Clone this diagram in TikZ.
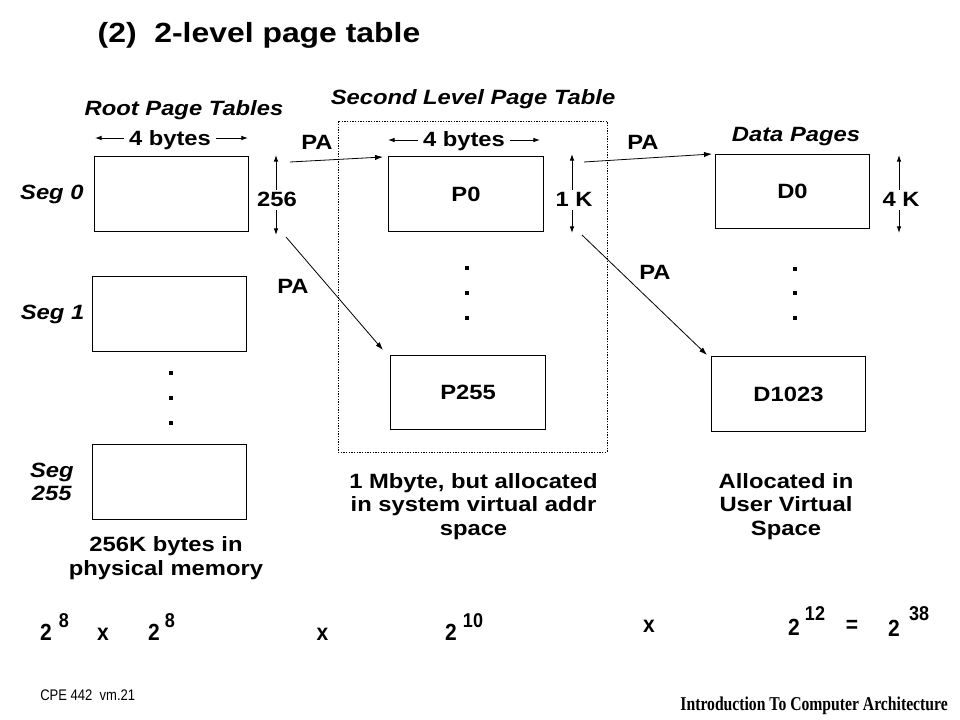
\documentclass[tikz,border=0pt]{standalone}
\usepackage{fontspec}
\setmainfont{Liberation Sans}[FakeStretch=1.15]
\newfontfamily\eqsans{Liberation Sans}[FakeStretch=0.9]
\newfontfamily\narrowsans{Liberation Sans}[FakeStretch=0.85]
\newfontfamily\footserif{Liberation Serif}[FakeStretch=0.8]
\usetikzlibrary{positioning, arrows.meta}

\tikzset{
  page/.style={draw, line width=0.8pt, minimum width=116pt, minimum height=56pt, inner sep=0pt,
    font=\fontsize{15.5}{17.6}\selectfont\bfseries},
  lbl/.style={font=\fontsize{15.5}{17.6}\selectfont\bfseries},
  head/.style={font=\fontsize{15.5}{17.6}\selectfont\bfseries\itshape},
  seglbl/.style={head, align=center},
  note/.style={lbl, align=center},
  dimlbl/.style={lbl, inner sep=2pt},
  dim/.style={-{Latex[length=5pt,width=3.5pt]}, line width=0.7pt},
  ptr/.style={-{Latex[length=6pt,width=4pt]}, line width=0.6pt},
  frame/.style={draw, line width=0.7pt, dash pattern=on 1pt off 1pt,
    minimum width=201.75pt, minimum height=248.25pt},
  vdot/.style={fill, minimum size=3.3pt, inner sep=0pt},
  eqn/.style={font=\eqsans\fontsize{17.5}{20}\selectfont\bfseries, inner sep=0pt},
  eqexp/.style={font=\eqsans\fontsize{15}{17}\selectfont\bfseries, inner sep=0pt},
}

\begin{document}
\begin{tikzpicture}[x=0.75pt, y=-0.75pt]
  \useasboundingbox (0,0) rectangle (960,720);

  \node[font=\fontsize{20.8}{24}\selectfont\bfseries, anchor=base] (title) at (259,43) {(2)\ \ 2-level page table};

  % root page tables
  \node[head, anchor=base] (roothead) at (184,116) {Root Page Tables};
  \node[page] (seg0) at (171.5,194) {};
  \node[page] (seg1) at (169.5,314) {};
  \node[page] (seg255) at (169.5,482) {};
  \node[seglbl, left=4pt of seg0] (seg0lbl) {Seg 0};
  \node[seglbl, left=2pt of seg1] (seg1lbl) {Seg 1};
  \node[seglbl, left=10pt of seg255] (seg255lbl) {Seg\\255};
  \foreach \y in {373,398,423}
    \node[vdot] (rdot\y) at (171,\y) {};
  \node[note, anchor=base] (rootnote) at (166,575) {256K bytes in\\physical memory};

  \node[lbl, anchor=base] (wroot) at (170,146) {4 bytes};
  \coordinate (wrootl) at (95,138);
  \coordinate (wrootr) at (248,138);
  \draw[dim] (wrootl -| wroot.west) -- (wrootl);
  \draw[dim] (wrootr -| wroot.east) -- (wrootr);

  \node[dimlbl, anchor=base] (h256) at (277,207) {256};
  \coordinate (h256t) at (276,155);
  \coordinate (h256b) at (276,235);
  \draw[dim] (h256t |- h256.north) -- (h256t);
  \draw[dim] (h256b |- h256.south) -- (h256b);

  % second level page table
  \node[frame] (slframe) at (472.5,286.5) {};
  \node[head, anchor=base] (slhead) at (473,105) {Second Level Page Table};
  \node[page] (p0) at (466,194) {P0};
  \node[page] (p255) at (468,392.5) {P255};
  \foreach \y in {268,293,318}
    \node[vdot] (sdot\y) at (467,\y) {};
  \node[note, anchor=base] (slnote) at (473.5,535) {1 Mbyte, but allocated\\in system virtual addr\\space};

  \node[lbl, anchor=base] (wsl) at (464,147) {4 bytes};
  \coordinate (wsll) at (388,140);
  \coordinate (wslr) at (540,140);
  \draw[dim] (wsll -| wsl.west) -- (wsll);
  \draw[dim] (wslr -| wsl.east) -- (wslr);

  \node[dimlbl, anchor=base] (h1k) at (574,207) {1 K};
  \coordinate (h1kt) at (572,154);
  \coordinate (h1kb) at (572,233);
  \draw[dim] (h1kt |- h1k.north) -- (h1kt);
  \draw[dim] (h1kb |- h1k.south) -- (h1kb);

  % data pages
  \node[head, anchor=base] (datahead) at (796,142) {Data Pages};
  \node[page] (d0) at (792.5,191.5) {D0};
  \node[page] (d1023) at (788.5,394) {D1023};
  \foreach \y in {269,293,318}
    \node[vdot] (ddot\y) at (795,\y) {};
  \node[note, anchor=base] (datanote) at (786,535) {Allocated in\\User Virtual\\Space};

  \node[dimlbl, anchor=base] (h4k) at (901,207) {4 K};
  \coordinate (h4kt) at (899,155);
  \coordinate (h4kb) at (899,233);
  \draw[dim] (h4kt |- h4k.north) -- (h4kt);
  \draw[dim] (h4kb |- h4k.south) -- (h4kb);

  % physical address pointers
  \coordinate (r1) at (290,162);
  \coordinate (p0in) at (383,157);
  \coordinate (r2) at (286,237);
  \coordinate (p255in) at (383,350);
  \coordinate (q1) at (584,162);
  \coordinate (d0in) at (712,154);
  \coordinate (q2) at (582,235);
  \coordinate (d1023in) at (707,355);
  \draw[ptr] (r1) -- (p0in);
  \draw[ptr] (r2) -- (p255in);
  \draw[ptr] (q1) -- (d0in);
  \draw[ptr] (q2) -- (d1023in);
  \node[lbl, anchor=base] (pa1) at (317,150) {PA};
  \node[lbl, anchor=base] (pa2) at (293,294) {PA};
  \node[lbl, anchor=base] (pa3) at (643,150) {PA};
  \node[lbl, anchor=base] (pa4) at (655,280) {PA};

  % address bits
  \node[eqn, anchor=base] (b1) at (46,640) {2};
  \node[eqexp, anchor=base] (e1) at (64,627) {8};
  \node[eqn, anchor=base] (x1) at (103,640) {x};
  \node[eqn, anchor=base] (b2) at (154,640) {2};
  \node[eqexp, anchor=base] (e2) at (170,627) {8};
  \node[eqn, anchor=base] (x2) at (322.5,640) {x};
  \node[eqn, anchor=base] (b3) at (451,640) {2};
  \node[eqexp, anchor=base] (e3) at (473,627) {10};
  \node[eqn, anchor=base] (x3) at (649,632) {x};
  \node[eqn, anchor=base] (b4) at (794,635) {2};
  \node[eqexp, anchor=base] (e4) at (815,620) {12};
  \node[eqn, anchor=base] (eq) at (852,632) {=};
  \node[eqn, anchor=base] (b5) at (894,636) {2};
  \node[eqexp, anchor=base] (e5) at (919,620) {38};

  % footer
  \node[font=\narrowsans\fontsize{11.5}{13}\selectfont, inner sep=0pt, anchor=base west] (slideid) at (40,700) {CPE 442\ \ vm.21};
  \node[font=\footserif\fontsize{14.7}{16}\selectfont\bfseries, inner sep=0pt, anchor=base east] (course) at (948,710) {Introduction To Computer Architecture};
\end{tikzpicture}
\end{document}
